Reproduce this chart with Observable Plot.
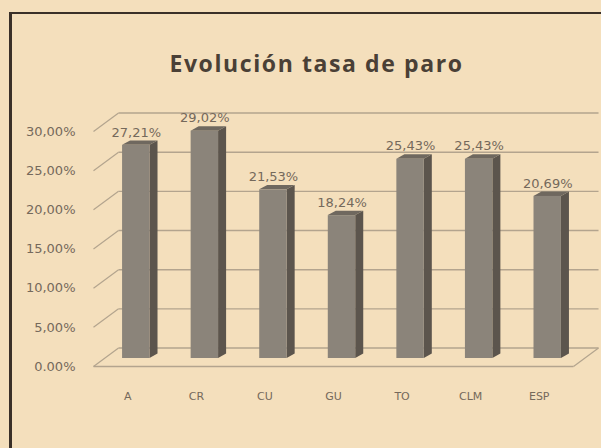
<!DOCTYPE html>
<html>
<head>
<meta charset="utf-8">
<script src="https://cdn.jsdelivr.net/npm/d3@7"></script>
<script src="https://cdn.jsdelivr.net/npm/@observablehq/plot@0.6"></script>
<style>
  html, body { margin: 0; padding: 0; width: 601px; height: 448px; overflow: hidden; background: #f4dfbc; }
  #wrap { position: relative; width: 601px; height: 448px; }
  #frame { position: absolute; left: 9px; top: 12px; width: 600px; height: 460px;
           border-left: 3px solid #3a3028; border-top: 2px solid #3a3028; }
  #title { position: absolute; left: 16px; width: 601px; top: 48px; text-align: center;
           font-family: "Open Sans", Lato, sans-serif; font-weight: bold; font-size: 23px;
           letter-spacing: 1.6px; color: #4a4036; line-height: 30px; }
  #chart { position: absolute; left: 0; top: 0; }
</style>
</head>
<body>
<div id="wrap">
  <div id="chart"></div>
  <div id="frame"></div>
  <div id="title">Evolución tasa de paro</div>
</div>
<script>
const categories = ["A", "CR", "CU", "GU", "TO", "CLM", "ESP"];
const values = [0.2721, 0.2902, 0.2153, 0.1824, 0.2543, 0.2543, 0.2069];
const yTicks = [0, 0.05, 0.10, 0.15, 0.20, 0.25, 0.30];
const yTickLabels = ["0.00%", "5,00%", "10,00%", "15,00%", "20,00%", "25,00%", "30,00%"];

// 3D geometry (in data units)
const WX = 0.365, WY = 0.0236;   // wall depth
const DX = 0.117, DY = 0.0057;   // bar depth
const A0 = 0.3, B0 = 0.7;        // bar extent within each category slot

const bars = categories.map((c, i) => ({c, i, v: values[i]}));
const sideFaces = bars.flatMap(d => [
  {c: d.c, x: d.i + B0, y1: 0, y2: d.v},
  {c: d.c, x: d.i + B0 + DX, y1: DY, y2: d.v + DY}
]);
const topFaces = bars.flatMap(d => [
  {c: d.c, x: d.i + A0, y1: d.v, y2: d.v},
  {c: d.c, x: d.i + A0 + DX, y1: d.v, y2: d.v + DY},
  {c: d.c, x: d.i + B0, y1: d.v, y2: d.v + DY},
  {c: d.c, x: d.i + B0 + DX, y1: d.v + DY, y2: d.v + DY}
]);
const fmt = v => d3.format(".2%")(v).replace(".", ",");

const gridColor = "#b3a48e";
const barOff = {dx: 8.5, dy: -8};

const chart = Plot.plot({
  width: 601,
  height: 448,
  marginLeft: 93,
  marginRight: 28,
  marginTop: 131,
  marginBottom: 82,
  style: {background: "transparent", fontFamily: "DejaVu Sans, sans-serif", color: "#75695b"},
  x: {domain: [0, categories.length], range: [93, 573]},
  y: {domain: [0, 0.30], range: [366, 131]},
  marks: [
    // back wall gridlines
    Plot.link(yTicks, {x1: WX, x2: categories.length + WX, y1: t => t + WY, y2: t => t + WY,
      stroke: gridColor, strokeWidth: 1.4}),
    // left wall slanted lines
    Plot.link(yTicks, {x1: 0, x2: WX, y1: t => t, y2: t => t + WY, stroke: gridColor, strokeWidth: 1.2}),
    // floor front and right edges
    Plot.link([0], {x1: 0, x2: categories.length, y1: 0, y2: 0, stroke: gridColor, strokeWidth: 1.4}),
    Plot.link([0], {x1: categories.length, x2: categories.length + WX, y1: 0, y2: WY, stroke: gridColor, strokeWidth: 1.2}),
    // bars: side, top, front
    Plot.areaY(sideFaces, {x: "x", y1: "y1", y2: "y2", z: "c", fill: "#5c554d", ...barOff}),
    Plot.areaY(topFaces, {x: "x", y1: "y1", y2: "y2", z: "c", fill: "#6f685f", ...barOff}),
    Plot.rectY(bars, {x1: d => d.i + A0, x2: d => d.i + B0, y1: 0, y2: "v", fill: "#8b847a", ...barOff}),
    // value labels
    Plot.text(bars, {x: d => d.i + 0.5, y: "v", text: d => fmt(d.v), dx: 8.5, dy: -21,
      fontSize: 13, fill: "#75695b"}),
    // axes
    Plot.axisY(yTicks, {tickFormat: d => yTickLabels[yTicks.indexOf(d)], tickSize: 0, tickPadding: 18,
      fontSize: 13, label: null}),
    Plot.axisX(categories.map((c, i) => i + 0.5), {tickFormat: d => categories[Math.floor(d)],
      tickSize: 0, tickPadding: 26, fontSize: 11, label: null})
  ]
});
document.getElementById("chart").appendChild(chart);
</script>
</body>
</html>
